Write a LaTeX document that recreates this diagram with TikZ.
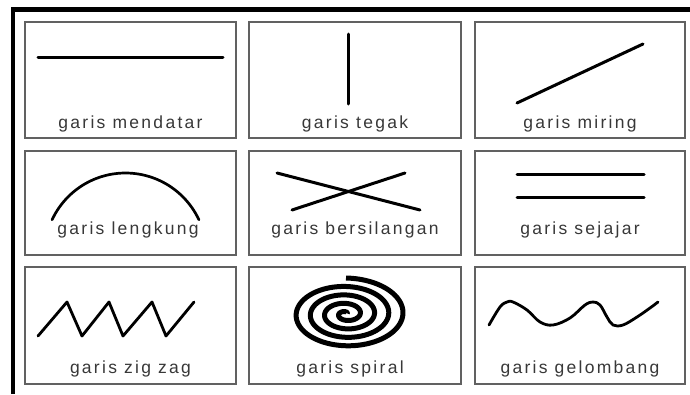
\documentclass[tikz,border=0pt]{standalone}
\usepackage{fontspec}
\setmainfont{Liberation Sans}
\newfontfamily\lblfont[LetterSpace=13]{Liberation Sans}
\begin{document}
\begin{tikzpicture}[x=1pt,y=-1pt,
  box/.style={draw=black!62, line width=1.2pt, fill=white, rectangle, inner sep=0pt},
  lbl/.style={anchor=base, text=black!78, font=\lblfont\fontsize{17.5}{19}\selectfont, inner sep=0pt},
  shp/.style={draw=black, line width=3pt, line cap=round, line join=round}]
\useasboundingbox (0,0) rectangle (690,394);
\fill[white] (0,0) rectangle (690,394);
% outer frame
\draw[line width=4.5pt] (13,394) -- (13,9.5) -- (690,9.5);
% boxes
\node[box, minimum width=211pt, minimum height=116pt] (b1) at (130.5,80) {};
\node[box, minimum width=212pt, minimum height=116pt] (b2) at (355,80) {};
\node[box, minimum width=210pt, minimum height=116pt] (b3) at (580,80) {};
\node[box, minimum width=211pt, minimum height=104pt] (b4) at (130.5,203) {};
\node[box, minimum width=212pt, minimum height=104pt] (b5) at (355,203) {};
\node[box, minimum width=210pt, minimum height=104pt] (b6) at (580,203) {};
\node[box, minimum width=211pt, minimum height=117pt] (b7) at (130.5,325.5) {};
\node[box, minimum width=212pt, minimum height=117pt] (b8) at (355,325.5) {};
\node[box, minimum width=210pt, minimum height=117pt] (b9) at (580,325.5) {};
% labels
\node[lbl] (t1) at (130.5,128) {garis mendatar};
\node[lbl] (t2) at (355,128) {garis tegak};
\node[lbl] (t3) at (580,128) {garis miring};
\node[lbl] (t4) at (128,234) {garis lengkung};
\node[lbl] (t5) at (355,234) {garis bersilangan};
\node[lbl] (t6) at (580,234) {garis sejajar};
\node[lbl] (t7) at (130.5,373) {garis zig zag};
\node[lbl] (t8) at (350,373) {garis spiral};
\node[lbl] (t9) at (580,373) {garis gelombang};
% shapes
\draw[shp] (38,57) -- (223,57);
\draw[shp] (348,34) -- (348,104);
\draw[shp] (517,103) -- (643,44);
\draw[shp, line width=2.7pt] plot[domain=155:25, samples=60, variable=\a, smooth] ({125.5+81*cos(\a)}, {254-81*sin(\a)});
\draw[shp] (277,173) -- (420,210);
\draw[shp] (292,210) -- (405,173);
\draw[shp] (517,174) -- (644,174);
\draw[shp] (517,197) -- (644,197);
\draw[shp, line width=2.8pt] (38,336) -- (67,302) -- (82,336) -- (109,302) -- (123,336) -- (152,302) -- (166,336) -- (194,302);
\draw[draw=black, line width=5pt, line cap=butt] plot[domain=40:1530, samples=500, variable=\t, smooth]
  ({346 + 60.5*(\t/1530)*cos(\t)}, {314 - 36*(\t/1530)*sin(\t)});
\draw[shp, line width=2.8pt] plot[smooth, tension=0.6] coordinates {(489,325) (500,307) (507,302) (513,302) (527,310) (540,322) (553,325) (570,318) (585,305) (593,302) (600,305) (607,317) (613,325) (623,325) (637,317) (650,308) (658,302)};
\end{tikzpicture}
\end{document}
